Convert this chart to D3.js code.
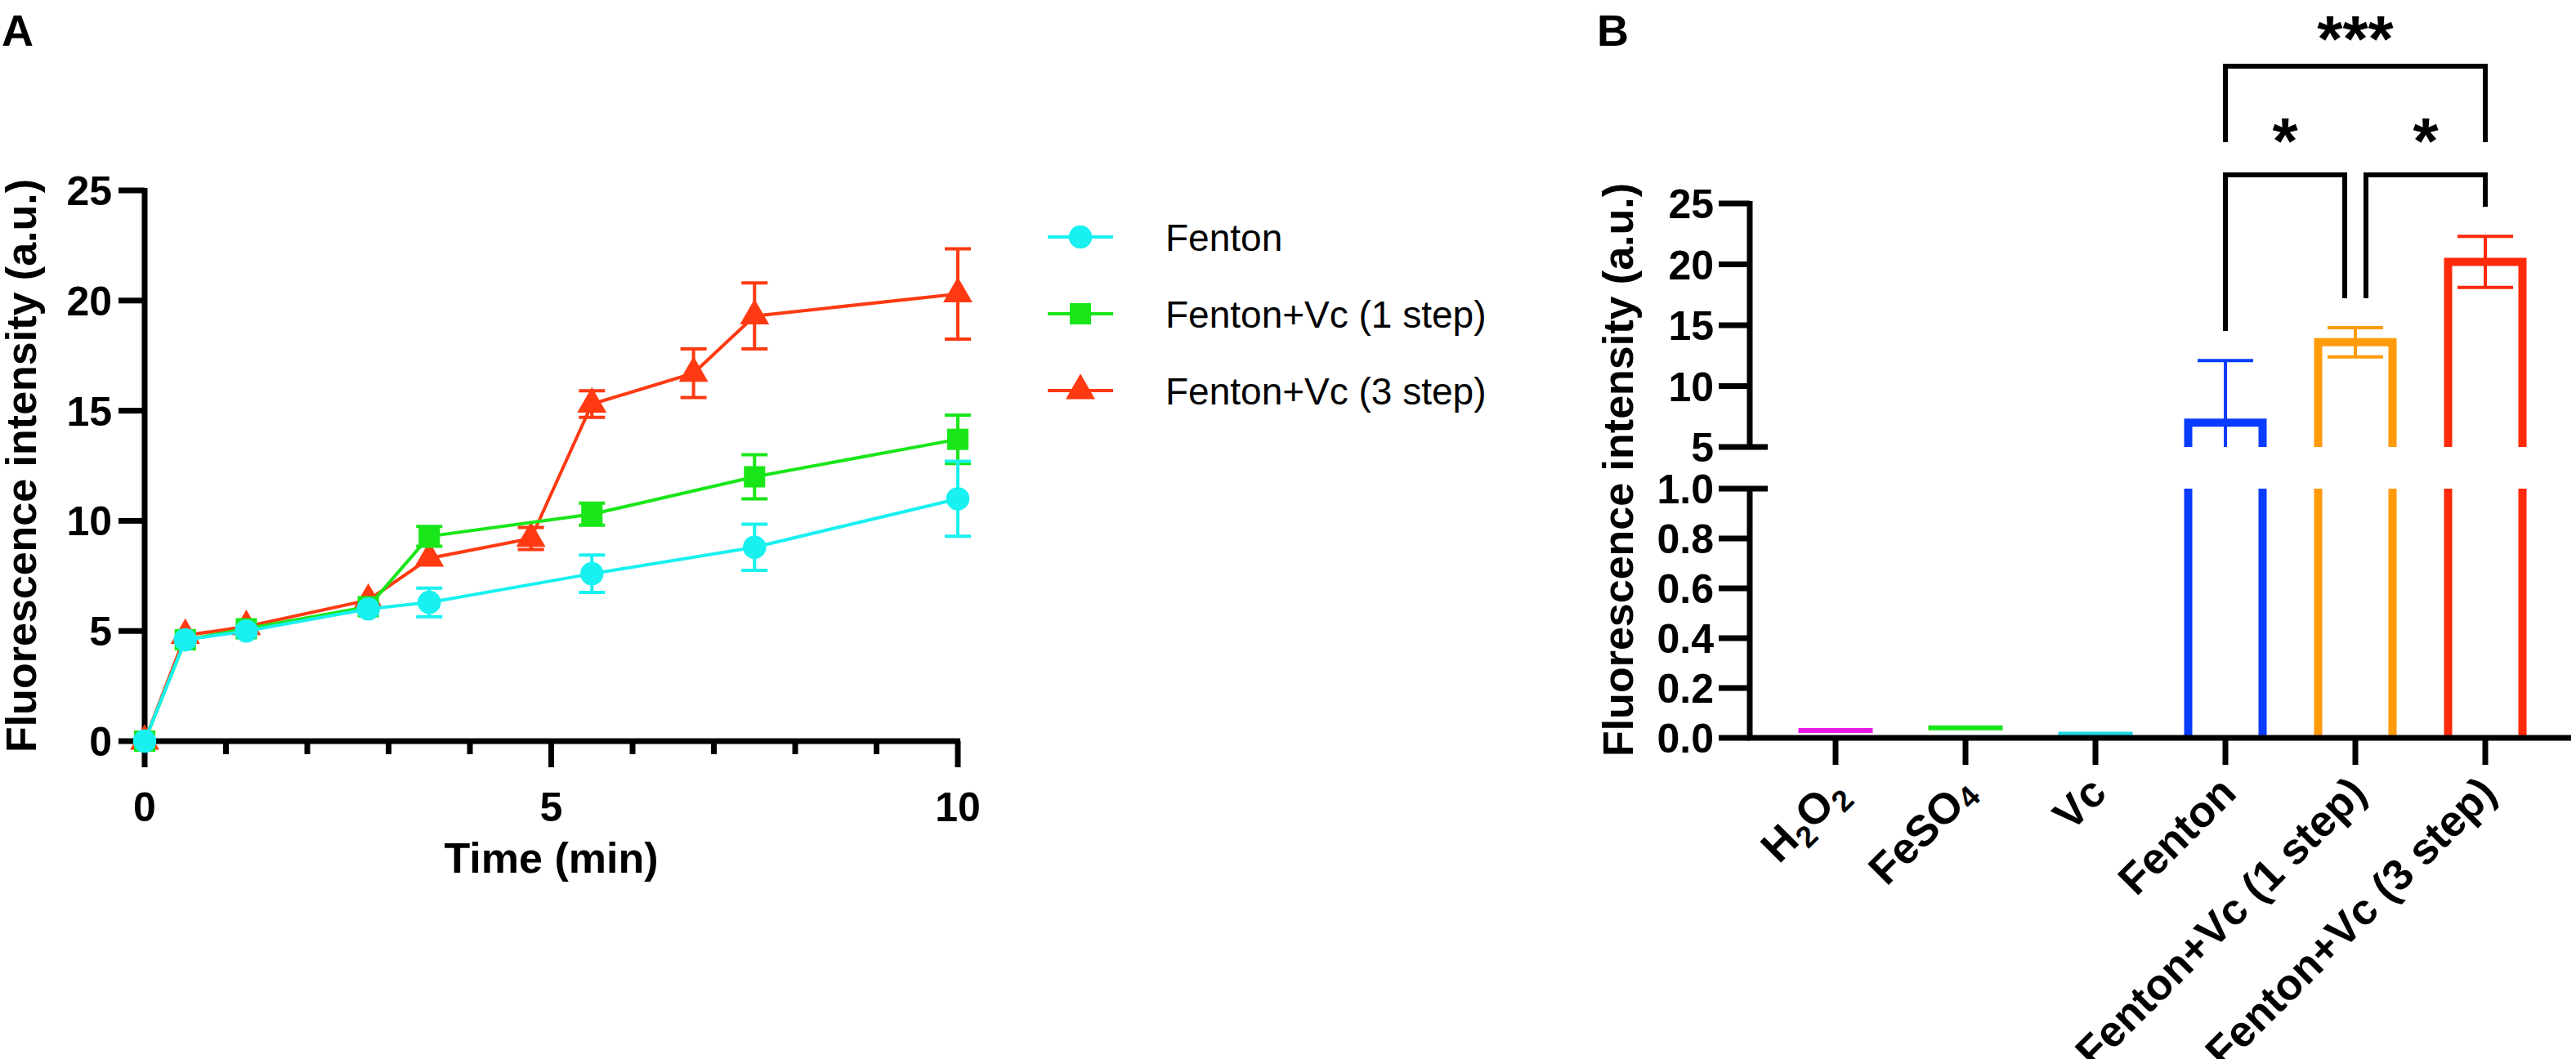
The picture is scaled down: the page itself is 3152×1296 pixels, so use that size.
<!DOCTYPE html>
<html><head><meta charset="utf-8">
<script src="https://cdn.jsdelivr.net/npm/d3@7"></script>
<style>
body{margin:0;background:#fff;}
text{font-family:"Liberation Sans",Arial,sans-serif;}
</style></head><body>
<script>
// ---- data: panel A ----
var timeFenton = [0, 0.5, 1.25, 2.75, 3.5, 5.5, 7.5, 10];
var valFenton = [0, 4.6, 5.0, 6.0, 6.3, 7.6, 8.8, 11.0];
var errFenton = [0, 0.2, 0.2, 0.2, 0.65, 0.85, 1.05, 1.7];
var time1 = [0, 0.5, 1.25, 2.75, 3.5, 5.5, 7.5, 10];
var val1 = [0, 4.6, 5.1, 6.1, 9.3, 10.3, 12.0, 13.7];
var err1 = [0, 0.2, 0.2, 0.2, 0.45, 0.5, 1.0, 1.1];
var time3 = [0, 0.5, 1.25, 2.75, 3.5, 4.75, 5.5, 6.75, 7.5, 10];
var val3 = [0, 4.8, 5.2, 6.4, 8.3, 9.2, 15.3, 16.7, 19.3, 20.3];
var err3 = [0, 0.2, 0.2, 0.2, 0.3, 0.5, 0.6, 1.1, 1.5, 2.05];
var seriesNames = ["Fenton", "Fenton+Vc (1 step)", "Fenton+Vc (3 step)"];
var seriesColors = ["#19f0f0", "#19e619", "#ff3a12"];
var yTicksA = [0, 5, 10, 15, 20, 25];
var xTicksA = [0, 5, 10];

// ---- data: panel B ----
var groups = ["H2O2", "FeSO4", "Vc", "Fenton", "Fenton+Vc (1 step)", "Fenton+Vc (3 step)"];
var barVals = [0.02, 0.03, 0.005, 7.0, 13.6, 20.2];
var barErr = [0, 0, 0, 5.1, 1.2, 2.1];
var barColors = ["#e619e6", "#19e619", "#19d6e6", "#0a3cff", "#ff9a0a", "#ff2a0a"];
var yTicksLow = [0, 0.2, 0.4, 0.6, 0.8, 1.0];
var yTicksHigh = [5, 10, 15, 20, 25];
var sigs = [["Fenton", "Fenton+Vc (3 step)", "***"], ["Fenton", "Fenton+Vc (1 step)", "*"], ["Fenton+Vc (1 step)", "Fenton+Vc (3 step)", "*"]];

var svg = d3.select("body").append("svg").attr("width", 3152).attr("height", 1296);

// ================= Panel A =================
var x = d3.scaleLinear().domain([0, 10]).range([177, 1172]);
var y = d3.scaleLinear().domain([0, 25]).range([907, 233]);
var gA = svg.append("g");

gA.append("text").attr("x", 2).attr("y", 56).attr("font-size", 54).attr("font-weight", "bold").text("A");

gA.append("line").attr("x1", x(0)).attr("x2", x(0)).attr("y1", y(25) - 3).attr("y2", y(0) + 3)
  .attr("stroke", "#000").attr("stroke-width", 7);
gA.append("line").attr("x1", x(0) - 3).attr("x2", x(10) + 3).attr("y1", y(0)).attr("y2", y(0))
  .attr("stroke", "#000").attr("stroke-width", 7);
yTicksA.forEach(function(t) {
  gA.append("line").attr("x1", x(0) - 32).attr("x2", x(0)).attr("y1", y(t)).attr("y2", y(t))
    .attr("stroke", "#000").attr("stroke-width", 7);
  gA.append("text").attr("x", x(0) - 40).attr("y", y(t)).attr("dy", "0.36em").attr("text-anchor", "end")
    .attr("font-size", 50).attr("font-weight", "bold").text(t);
});
d3.range(0, 11).forEach(function(t) {
  var major = xTicksA.indexOf(t) >= 0;
  gA.append("line").attr("x1", x(t)).attr("x2", x(t)).attr("y1", y(0)).attr("y2", y(0) + (major ? 32 : 16))
    .attr("stroke", "#000").attr("stroke-width", 7);
  if (major) gA.append("text").attr("x", x(t)).attr("y", 1005).attr("text-anchor", "middle")
    .attr("font-size", 50).attr("font-weight", "bold").text(t);
});
gA.append("text").attr("x", x(5)).attr("y", 1068).attr("text-anchor", "middle")
  .attr("font-size", 52).attr("font-weight", "bold").text("Time (min)");
gA.append("text").attr("transform", "translate(44,570) rotate(-90)").attr("text-anchor", "middle")
  .attr("font-size", 52).attr("font-weight", "bold").text("Fluorescence intensity (a.u.)");

var seriesData = [[timeFenton, valFenton, errFenton], [time1, val1, err1], [time3, val3, err3]];
var symbols = [d3.symbolCircle, d3.symbolSquare, d3.symbolTriangle];
var symSizes = [640, 680, 560];
var line = d3.line().x(function(d) { return x(d.t); }).y(function(d) { return y(d.v); });

[2, 1, 0].forEach(function(i) {
  var s = seriesData[i];
  var pts = s[0].map(function(t, j) { return {t: t, v: s[1][j], e: s[2][j]}; });
  var g = gA.append("g");
  g.append("path").datum(pts).attr("d", line).attr("fill", "none").attr("stroke", seriesColors[i]).attr("stroke-width", 4);
  pts.forEach(function(p) {
    if (p.e > 0.3) {
      g.append("path").attr("d", "M" + (x(p.t) - 16) + "," + y(p.v + p.e) + "h32M" + x(p.t) + "," + y(p.v + p.e) +
        "V" + y(p.v - p.e) + "M" + (x(p.t) - 16) + "," + y(p.v - p.e) + "h32")
        .attr("stroke", seriesColors[i]).attr("stroke-width", 4).attr("fill", "none");
    }
  });
  g.selectAll(".m").data(pts).enter().append("path")
    .attr("transform", function(p) { return "translate(" + x(p.t) + "," + y(p.v) + ")"; })
    .attr("d", d3.symbol().type(symbols[i]).size(symSizes[i])).attr("fill", seriesColors[i]);
});

// legend
seriesNames.forEach(function(n, i) {
  var ly = 290 + i * 94;
  gA.append("line").attr("x1", 1282).attr("x2", 1362).attr("y1", ly).attr("y2", ly)
    .attr("stroke", seriesColors[i]).attr("stroke-width", 4);
  gA.append("path").attr("transform", "translate(1322," + ly + ")")
    .attr("d", d3.symbol().type(symbols[i]).size(symSizes[i])).attr("fill", seriesColors[i]);
  gA.append("text").attr("x", 1426).attr("y", ly).attr("dy", "0.36em").attr("font-size", 46).text(n);
});

// ================= Panel B =================
var gB = svg.append("g");
var xb = d3.scalePoint().domain(groups).range([2246, 3041]);
var yLow = d3.scaleLinear().domain([0, 1]).range([903, 598]);
var yHigh = d3.scaleLinear().domain([5, 25]).range([547, 249]);
var axX = 2141;
var bw = 101;

gB.append("text").attr("x", 1954).attr("y", 56).attr("font-size", 54).attr("font-weight", "bold").text("B");

gB.append("line").attr("x1", axX).attr("x2", axX).attr("y1", yHigh(25) - 3).attr("y2", yHigh(5) + 3)
  .attr("stroke", "#000").attr("stroke-width", 7);
gB.append("line").attr("x1", axX).attr("x2", axX).attr("y1", yLow(1) - 3).attr("y2", yLow(0))
  .attr("stroke", "#000").attr("stroke-width", 7);
yTicksHigh.forEach(function(t) {
  gB.append("line").attr("x1", axX - 38).attr("x2", t === 5 ? axX + 22 : axX).attr("y1", yHigh(t)).attr("y2", yHigh(t))
    .attr("stroke", "#000").attr("stroke-width", 7);
  gB.append("text").attr("x", axX - 44).attr("y", yHigh(t)).attr("dy", "0.36em").attr("text-anchor", "end")
    .attr("font-size", 50).attr("font-weight", "bold").text(t);
});
yTicksLow.forEach(function(t) {
  gB.append("line").attr("x1", axX - 38).attr("x2", t === 1 ? axX + 22 : axX).attr("y1", yLow(t)).attr("y2", yLow(t))
    .attr("stroke", "#000").attr("stroke-width", 7);
  gB.append("text").attr("x", axX - 44).attr("y", yLow(t)).attr("dy", "0.36em").attr("text-anchor", "end")
    .attr("font-size", 50).attr("font-weight", "bold").text(t.toFixed(1));
});
gB.append("text").attr("transform", "translate(1998,575) rotate(-90)").attr("text-anchor", "middle")
  .attr("font-size", 52).attr("font-weight", "bold").text("Fluorescence intensity (a.u.)");

// bars
groups.forEach(function(gname, i) {
  var cx = xb(gname), v = barVals[i], c = barColors[i];
  var left = cx - bw / 2 + 5, right = cx + bw / 2 - 5;
  if (v <= 1) {
    gB.append("line").attr("x1", left).attr("x2", right).attr("y1", yLow(v) - 3).attr("y2", yLow(v) - 3)
      .attr("stroke", c).attr("stroke-width", 6);
  } else {
    gB.append("path").attr("d", "M" + left + "," + yLow(0) + "V" + yLow(1) + "M" + right + "," + yLow(0) + "V" + yLow(1))
      .attr("stroke", c).attr("stroke-width", 10).attr("fill", "none");
    gB.append("path").attr("d", "M" + left + "," + yHigh(5) + "V" + yHigh(v) + "H" + right + "V" + yHigh(5))
      .attr("stroke", c).attr("stroke-width", 10).attr("fill", "none");
    var lo = Math.max(5, v - barErr[i]), hi = v + barErr[i];
    gB.append("path").attr("d", "M" + (cx - 34) + "," + yHigh(hi) + "h68M" + cx + "," + yHigh(hi) + "V" + yHigh(lo) +
      (v - barErr[i] > 5 ? "M" + (cx - 34) + "," + yHigh(lo) + "h68" : ""))
      .attr("stroke", c).attr("stroke-width", 4).attr("fill", "none");
  }
});

// x axis
gB.append("line").attr("x1", axX - 3).attr("x2", 3146).attr("y1", yLow(0)).attr("y2", yLow(0))
  .attr("stroke", "#000").attr("stroke-width", 7);
groups.forEach(function(gname) {
  var cx = xb(gname);
  gB.append("line").attr("x1", cx).attr("x2", cx).attr("y1", yLow(0)).attr("y2", yLow(0) + 33)
    .attr("stroke", "#000").attr("stroke-width", 7);
  var t = gB.append("text").attr("transform", "translate(" + (cx + 16) + "," + (yLow(0) + 70) + ") rotate(-45)")
    .attr("text-anchor", "end").attr("font-size", 53).attr("font-weight", "bold");
  if (gname === "H2O2") {
    t.append("tspan").text("H");
    t.append("tspan").attr("font-size", 37).attr("dy", 12).text("2");
    t.append("tspan").attr("dy", -12).text("O");
    t.append("tspan").attr("font-size", 37).attr("dy", 12).text("2");
  } else if (gname === "FeSO4") {
    t.append("tspan").text("FeSO");
    t.append("tspan").attr("font-size", 37).attr("dy", 6).text("4");
  } else t.text(gname);
});

// significance
var levels = [[81, 174, 174], [214, 405, 365], [214, 365, 253]];
sigs.forEach(function(s, k) {
  var x1 = xb(s[0]), x2 = xb(s[1]);
  if (k === 1) x2 -= 13;
  if (k === 2) x1 += 13;
  var L = levels[k];
  gB.append("path").attr("d", "M" + x1 + "," + L[1] + "V" + L[0] + "H" + x2 + "V" + L[2])
    .attr("stroke", "#000").attr("stroke-width", 6).attr("fill", "none");
  gB.append("text").attr("x", (x1 + x2) / 2).attr("y", L[0] - (k === 0 ? 6 : 14)).attr("text-anchor", "middle")
    .attr("font-size", 80).attr("font-weight", "bold").text(s[2]);
});
</script>
</body></html>
